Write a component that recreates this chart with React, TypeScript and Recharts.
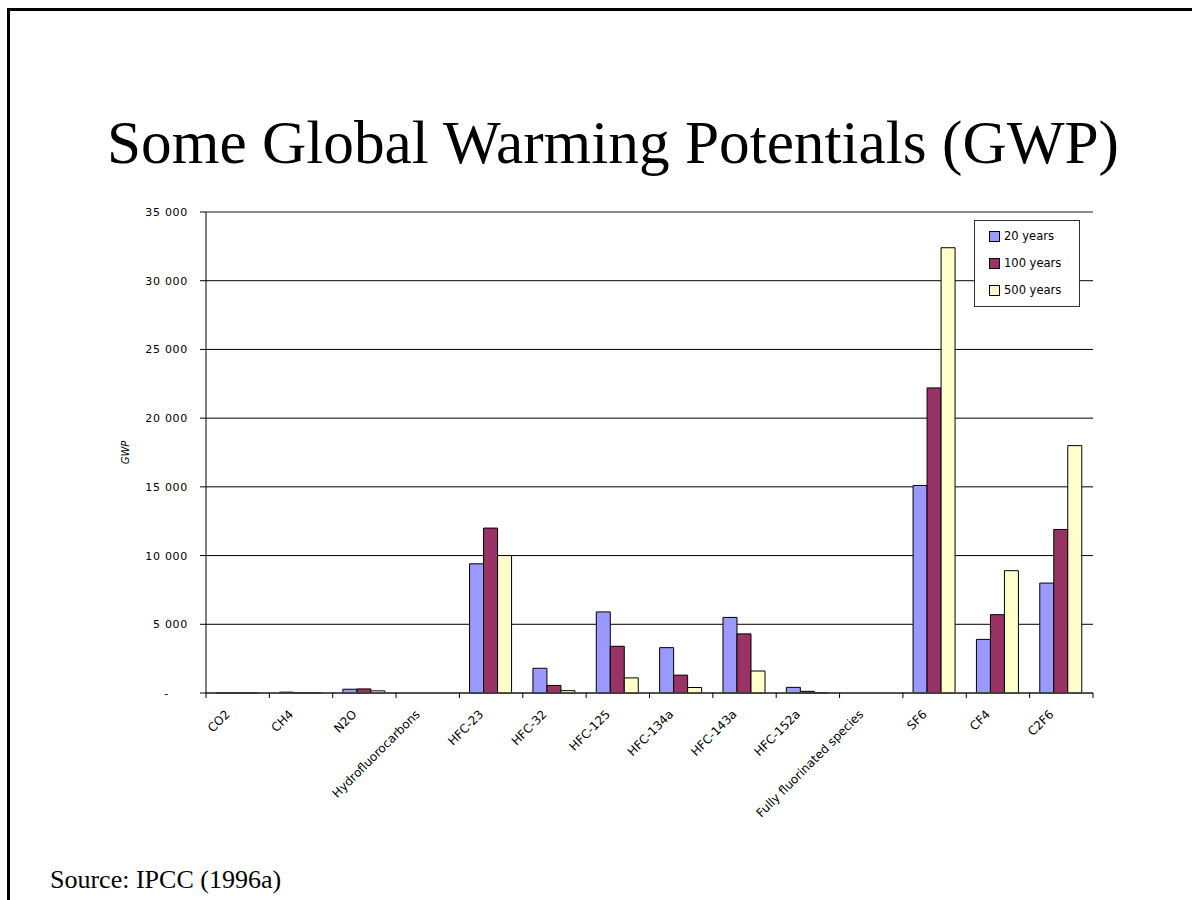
import { BarChart, Bar, XAxis, YAxis, CartesianGrid, Legend, ReferenceLine, Label } from 'recharts';

const categories = [
  'CO2', 'CH4', 'N2O', 'Hydrofluorocarbons', 'HFC-23', 'HFC-32', 'HFC-125',
  'HFC-134a', 'HFC-143a', 'HFC-152a', 'Fully fluorinated species', 'SF6', 'CF4', 'C2F6',
];
const gwp20 = [1, 62, 275, null, 9400, 1800, 5900, 3300, 5500, 410, null, 15100, 3900, 8000];
const gwp100 = [1, 23, 296, null, 12000, 550, 3400, 1300, 4300, 120, null, 22200, 5700, 11900];
const gwp500 = [1, 7, 156, null, 10000, 170, 1100, 400, 1600, 37, null, 32400, 8900, 18000];
const yTicks = [0, 5000, 10000, 15000, 20000, 25000, 30000, 35000];
const seriesNames = ['20 years', '100 years', '500 years'];
const seriesColors = ['#9999ff', '#993366', '#ffffcc'];

const data = categories.map((name, i) => ({
  name,
  y20: gwp20[i],
  y100: gwp100[i],
  y500: gwp500[i],
}));

const W = 1192;
const H = 900;
const MARGIN = { top: 212, right: 99, bottom: 87, left: 110 };
const Y_AXIS_W = 96;
const PLOT_W = W - MARGIN.left - MARGIN.right - Y_AXIS_W;
const BAND = PLOT_W / categories.length;
const FONT = '"DejaVu Sans", sans-serif';

const fmt = (v: number) => (v === 0 ? '-' : String(v).replace(/\B(?=(\d{3})+(?!\d))/g, ' '));

function YTick({ x, y, payload }: any) {
  const v = payload.value;
  return (
    <text x={v === 0 ? x - 19 : x} y={y} dy={4} textAnchor="end" fontFamily={FONT} fontSize={11} letterSpacing={0.7} fill="#000">
      {fmt(v)}
    </text>
  );
}

function XTick({ x, y, payload, index }: any) {
  const half = BAND / 2;
  const tx = x - 7;
  const ty = y + 22;
  return (
    <g>
      <line x1={x - half} x2={x - half} y1={y} y2={y + 5} stroke="#000" />
      {index === categories.length - 1 && (
        <line x1={x + half} x2={x + half} y1={y} y2={y + 5} stroke="#000" />
      )}
      <text
        x={tx}
        y={ty}
        transform={`rotate(-45 ${tx} ${ty})`}
        textAnchor="end"
        fontFamily={FONT}
        fontSize={12}
        fill="#000"
      >
        {payload.value}
      </text>
    </g>
  );
}

function LegendBox() {
  return (
    <div
      style={{
        width: 104,
        height: 85,
        border: '1px solid #333',
        background: '#fff',
        fontFamily: FONT,
        fontSize: 11.5,
        color: '#000',
        position: 'relative',
      }}
    >
      {seriesNames.map((s, i) => (
        <div
          key={s}
          style={{ position: 'absolute', left: 14, top: 8 + i * 27, display: 'flex', alignItems: 'center', whiteSpace: 'nowrap' }}
        >
          <span
            style={{
              display: 'inline-block',
              width: 9,
              height: 9,
              background: seriesColors[i],
              border: '1px solid #000',
              marginRight: 4,
            }}
          />
          {s}
        </div>
      ))}
    </div>
  );
}

export default function App() {
  return (
    <div style={{ position: 'relative', width: W, height: H, overflow: 'hidden', background: '#fff' }}>
      <style>{'body{margin:0;overflow:hidden}'}</style>
      <div style={{ position: 'absolute', left: 7, top: 8, width: W - 7, height: 3, background: '#000' }} />
      <div style={{ position: 'absolute', left: 7, top: 8, width: 3, height: H - 8, background: '#000' }} />
      <svg width={W} height={H} style={{ position: 'absolute', left: 0, top: 0 }}>
        <text x={107} y={163} fontFamily='"Liberation Serif", serif' fontSize={61.3} fill="#000">
          Some Global Warming Potentials (GWP)
        </text>
        <text x={50} y={888} fontFamily='"Liberation Serif", serif' fontSize={26} fill="#000">
          Source: IPCC (1996a)
        </text>
      </svg>
      <div style={{ position: 'absolute', left: 0, top: 0 }}>
        <BarChart width={W} height={H} data={data} margin={MARGIN} barCategoryGap="16%" barGap={0}>
          <CartesianGrid vertical={false} stroke="#000" />
          <XAxis
            dataKey="name"
            interval={0}
            tickLine={false}
            tickSize={0}
            tickMargin={0}
            height={120}
            axisLine={{ stroke: '#444', strokeWidth: 1.5 }}
            tick={<XTick />}
          />
          <YAxis
            domain={[0, 35000]}
            ticks={yTicks}
            width={Y_AXIS_W}
            tickSize={6}
            tickMargin={12}
            tickLine={{ stroke: '#000' }}
            axisLine={{ stroke: '#000' }}
            tick={<YTick />}
            interval={0}
          >
            <Label
              content={({ viewBox }: any) => {
                const cx = viewBox.x + 19;
                const cy = viewBox.y + viewBox.height / 2;
                return (
                  <text x={cx} y={cy} transform={`rotate(-90 ${cx} ${cy})`} textAnchor="middle" fontFamily={FONT} fontSize={10} fontStyle="italic" fill="#000">
                    GWP
                  </text>
                );
              }}
            />
          </YAxis>
          <YAxis yAxisId="r" orientation="right" width={0} tick={false} tickLine={false} axisLine={{ stroke: '#999' }} />
          <ReferenceLine y={35000} stroke="#999" />
          <Legend
            layout="horizontal"
            verticalAlign="middle"
            align="center"
            content={<LegendBox />}
            wrapperStyle={{ position: 'absolute', left: 974, top: 220, width: 'auto', height: 'auto' }}
          />
          <Bar dataKey="y20" name={seriesNames[0]} fill={seriesColors[0]} stroke="#000" strokeWidth={1} isAnimationActive={false} />
          <Bar dataKey="y100" name={seriesNames[1]} fill={seriesColors[1]} stroke="#000" strokeWidth={1} isAnimationActive={false} />
          <Bar dataKey="y500" name={seriesNames[2]} fill={seriesColors[2]} stroke="#000" strokeWidth={1} isAnimationActive={false} />
        </BarChart>
      </div>
    </div>
  );
}
